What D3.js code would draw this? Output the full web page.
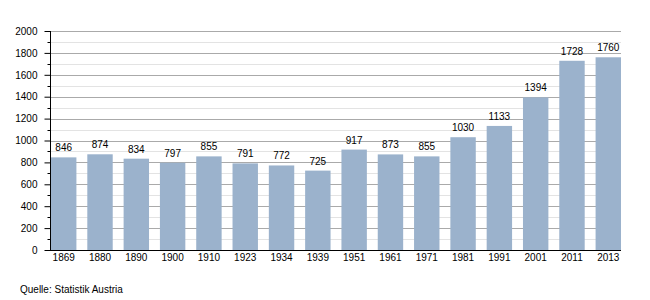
<!DOCTYPE html>
<html>
<head>
<meta charset="utf-8">
<script src="https://cdn.jsdelivr.net/npm/d3@7"></script>
<style>
  body { margin: 0; background: #fff; }
  svg { display: block; font-family: "Liberation Sans", Arial, sans-serif; }
</style>
</head>
<body>
<div id="chart"></div>
<script>
// Einwohner je Zählungsjahr
let years = ["1869", "1880", "1890", "1900", "1910", "1923", "1934", "1939",
             "1951", "1961", "1971", "1981", "1991", "2001", "2011", "2013"];
let values = [846, 874, 834, 797, 855, 791, 772, 725,
              917, 873, 855, 1030, 1133, 1394, 1728, 1760];
let yTicks = [0, 200, 400, 600, 800, 1000, 1200, 1400, 1600, 1800, 2000];
let source = "Quelle: Statistik Austria";

let width = 650;
let height = 300;
let margin = ({ top: 31, right: 29, bottom: 50, left: 50 });

let svg = d3.select("#chart")
    .append("svg")
    .attr("width", width)
    .attr("height", height);

let x = d3.scaleBand()
    .domain(years)
    .range([margin.left + 1, width - margin.right])
    .paddingInner(0.3)
    .paddingOuter(0);

let y = d3.scaleLinear()
    .domain([0, 2000])
    .range([height - margin.bottom, margin.top]);

let minor = d3.range(100, 2000, 200);

// grid lines
svg.append("g")
    .selectAll("line")
    .data(minor)
    .join("line")
    .attr("x1", margin.left)
    .attr("x2", width - margin.right)
    .attr("y1", d => Math.round(y(d)) + 0.5)
    .attr("y2", d => Math.round(y(d)) + 0.5)
    .attr("stroke", "#e3e3e3");

svg.append("g")
    .selectAll("line")
    .data(yTicks.slice(1))
    .join("line")
    .attr("x1", margin.left)
    .attr("x2", width - margin.right)
    .attr("y1", d => Math.round(y(d)) + 0.5)
    .attr("y2", d => Math.round(y(d)) + 0.5)
    .attr("stroke", "#aaaaaa");

// bars
svg.append("g")
    .attr("fill", "#9bb2cc")
    .selectAll("rect")
    .data(values)
    .join("rect")
    .attr("x", (d, i) => x(years[i]))
    .attr("y", d => y(d))
    .attr("width", x.bandwidth())
    .attr("height", d => y(0) - y(d));

// value labels
svg.append("g")
    .attr("font-size", 10)
    .attr("text-anchor", "middle")
    .attr("fill", "#000")
    .selectAll("text")
    .data(values)
    .join("text")
    .attr("x", (d, i) => x(years[i]) + x.bandwidth() / 2)
    .attr("y", d => y(d) - 6)
    .text(d => d)
    .each(function () {
        // keep first label clear of the axis
        let t = d3.select(this);
        let w = this.getComputedTextLength();
        let cx = +t.attr("x");
        if (cx - w / 2 < margin.left + 2) t.attr("x", margin.left + 2 + w / 2);
    });

// y axis
let yAxis = g => g
    .attr("transform", `translate(${margin.left + 0.5},0)`)
    .call(d3.axisLeft(y).tickValues(yTicks).tickFormat(d3.format("d")).tickSize(6).tickPadding(7))
    .call(g => g.select(".domain").attr("d", `M0,${y(2000)}V${y(0)}`))
    .call(g => g.selectAll(".tick line").attr("stroke", "#000"))
    .call(g => g.selectAll(".tick text")
        .attr("font-size", 10)
        .attr("fill", "#000"))
    .call(g => g.selectAll(".minor")
        .data(minor)
        .join("line")
        .attr("class", "minor")
        .attr("x1", -3)
        .attr("x2", 0)
        .attr("y1", d => Math.round(y(d)) + 0.5)
        .attr("y2", d => Math.round(y(d)) + 0.5)
        .attr("stroke", "#000"));

svg.append("g")
    .call(yAxis)
    .attr("font-family", null);

// x axis
svg.append("line")
    .attr("x1", margin.left)
    .attr("x2", width - margin.right)
    .attr("y1", y(0) + 0.5)
    .attr("y2", y(0) + 0.5)
    .attr("stroke", "#000");

svg.append("g")
    .attr("font-size", 10)
    .attr("text-anchor", "middle")
    .selectAll("text")
    .data(years)
    .join("text")
    .attr("x", d => x(d) + x.bandwidth() / 2)
    .attr("y", y(0) + 11)
    .text(d => d);

// source
svg.append("text")
    .attr("x", 20)
    .attr("y", 293)
    .attr("font-size", 10)
    .text(source);
</script>
</body>
</html>
